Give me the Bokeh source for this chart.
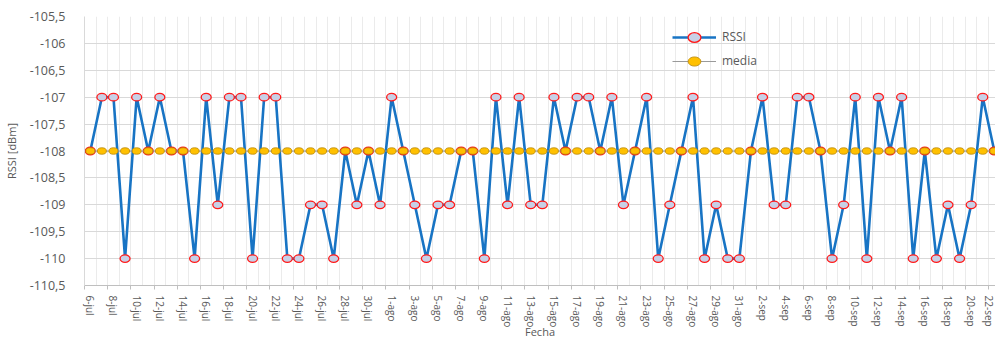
from bokeh.plotting import figure
from bokeh.models import (FixedTicker, CustomJSTickFormatter, Legend, LegendItem,
                          Range1d, ColumnDataSource, Title)
from bokeh.embed import file_html
from bokeh.resources import INLINE

# ---- data ----
fechas = ([f"{d}-jul" for d in range(6, 32)] +
          [f"{d}-ago" for d in range(1, 32)] +
          [f"{d}-sep" for d in range(1, 23)])

rssi_jul = [-108, -107, -107, -110, -107, -108, -107, -108, -108, -110,
            -107, -109, -107, -107, -110, -107, -107, -110, -110, -109,
            -109, -110, -108, -109, -108, -109]
rssi_ago = [-107, -108, -109, -110, -109, -109, -108, -108, -110, -107,
            -109, -107, -109, -109, -107, -108, -107, -107, -108, -107,
            -109, -108, -107, -110, -109, -108, -107, -110, -109, -110,
            -110]
rssi_sep = [-108, -107, -109, -109, -107, -107, -108, -110, -109, -107,
            -110, -107, -108, -107, -110, -108, -110, -109, -110, -109,
            -107, -108]
rssi = rssi_jul + rssi_ago + rssi_sep
media = [-108] * len(fechas)

y_ticks = [-110.5, -110, -109.5, -109, -108.5, -108, -107.5, -107,
           -106.5, -106, -105.5]

idx = list(range(len(fechas)))
src = ColumnDataSource(dict(x=idx, rssi=rssi, media=media))

FONT = "Open Sans"
GRAY_TXT = "#595959"

p = figure(width=995, height=338, output_backend="svg", toolbar_location=None,
           x_range=Range1d(-0.5, 78.1), y_range=Range1d(-110.5, -105.5),
           min_border_left=83, min_border_right=0, min_border_top=16,
           min_border_bottom=53)
p.outline_line_color = None

# grids
p.ygrid.ticker = FixedTicker(ticks=y_ticks)
p.ygrid.grid_line_color = "#d9d9d9"
p.xgrid.ticker = FixedTicker(ticks=[i + 0.5 for i in idx])
p.xgrid.grid_line_color = "#ebebeb"

# y axis
p.yaxis.ticker = FixedTicker(ticks=y_ticks)
p.yaxis.formatter = CustomJSTickFormatter(code="return tick.toString().replace('.', ',');")
p.yaxis.major_tick_line_color = None
p.yaxis.minor_tick_line_color = None
p.yaxis.axis_line_color = "#d9d9d9"
p.yaxis.major_label_text_font = FONT
p.yaxis.major_label_text_font_size = "12.5px"
p.yaxis.major_label_text_color = GRAY_TXT
p.yaxis.major_label_standoff = 13
p.yaxis.axis_label = "RSSI [dBm]"
p.yaxis.axis_label_text_font = FONT
p.yaxis.axis_label_text_font_style = "normal"
p.yaxis.axis_label_text_font_size = "11px"
p.yaxis.axis_label_text_color = GRAY_TXT
p.yaxis.axis_label_standoff = 8

# x axis
p.xaxis.ticker = FixedTicker(ticks=idx[::2], minor_ticks=[i - 0.5 for i in idx[::2]])
p.xaxis.major_label_overrides = {i: fechas[i] for i in idx}
p.xaxis.major_label_orientation = "vertical"
p.xaxis.major_tick_line_color = None
p.xaxis.major_tick_out = 0
p.xaxis.major_tick_in = 0
p.xaxis.minor_tick_line_color = "#bfbfbf"
p.xaxis.minor_tick_out = 4
p.xaxis.minor_tick_in = 0
p.xaxis.axis_line_color = "#bfbfbf"
p.xaxis.major_label_text_font = FONT
p.xaxis.major_label_text_font_size = "10px"
p.xaxis.major_label_text_color = GRAY_TXT
p.xaxis.major_label_standoff = 6

p.add_layout(Title(text="Fecha", align="center", vertical_align="top", standoff=-14,
                   text_font=FONT, text_font_style="normal",
                   text_font_size="11px", text_color=GRAY_TXT), "below")

# series
l_rssi = p.line("x", "rssi", source=src, line_color="#1874c4", line_width=2.6)
m_rssi = p.ellipse("x", "rssi", source=src, width=10, height=7.5,
                   width_units="screen", height_units="screen",
                   fill_color="#c8d0e6", line_color="#ff1a1a", line_width=1.3)
l_med = p.line("x", "media", source=src, line_color="#9a9a9a", line_width=1)
m_med = p.ellipse("x", "media", source=src, width=9, height=6.5,
                  width_units="screen", height_units="screen",
                  fill_color="#ffc000", line_color="#b8860b", line_width=0.8)

legend = Legend(items=[LegendItem(label="RSSI", renderers=[l_rssi, m_rssi]),
                       LegendItem(label="media", renderers=[l_med, m_med])],
                location=(588, 216), glyph_width=44, glyph_height=16,
                label_height=16, spacing=7, padding=0, label_standoff=6,
                border_line_color=None, background_fill_alpha=0,
                label_text_font=FONT, label_text_font_size="12px",
                label_text_color=GRAY_TXT)
p.add_layout(legend)

open("out.html", "w").write(file_html(p, INLINE))
